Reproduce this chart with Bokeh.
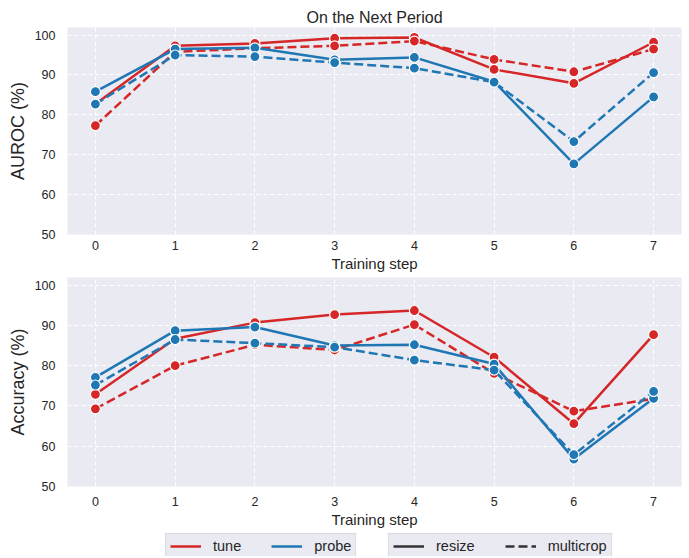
from bokeh.plotting import figure
from bokeh.layouts import column
from bokeh.models import Range1d, FixedTicker, Legend, LegendItem, ColumnDataSource
from bokeh.embed import file_html
from bokeh.resources import INLINE

steps = [0, 1, 2, 3, 4, 5, 6, 7]

auroc_tune_resize = [82.7, 97.3, 97.9, 99.2, 99.4, 91.4, 87.9, 98.2]
auroc_tune_multicrop = [77.3, 95.8, 96.7, 97.3, 98.5, 93.9, 90.8, 96.5]
auroc_probe_resize = [85.8, 96.5, 96.8, 93.8, 94.4, 88.3, 67.7, 84.5]
auroc_probe_multicrop = [82.7, 95.0, 94.6, 93.1, 91.7, 88.2, 73.3, 90.6]

acc_tune_resize = [72.9, 86.7, 90.7, 92.7, 93.7, 82.1, 65.6, 87.7]
acc_tune_multicrop = [69.3, 80.0, 85.2, 83.9, 90.2, 78.1, 68.7, 71.8]
acc_probe_resize = [77.1, 88.7, 89.6, 85.0, 85.2, 80.4, 56.8, 71.9]
acc_probe_multicrop = [75.2, 86.5, 85.6, 84.6, 81.4, 78.9, 57.9, 73.6]

y_ticks = [50, 60, 70, 80, 90, 100]

RED = "#d62728"
BLUE = "#1f77b4"
BG = "#eaeaf2"
TXT = "#262626"
FONT = "Liberation Sans"
DASH = "9 4"
W = 689


def make_panel(series, ylabel, height, top, bottom, xstand, title=None):
    p = figure(width=W, height=height, output_backend="svg", toolbar_location=None,
               x_range=Range1d(-0.35, 7.35), y_range=Range1d(50, 101.9),
               min_border_left=67, min_border_right=8, min_border_top=top,
               min_border_bottom=bottom, title=title)
    p.background_fill_color = BG
    p.border_fill_color = "white"
    p.outline_line_color = None
    if title is not None:
        p.title.align = "center"
        p.title.text_font = FONT
        p.title.text_font_size = "16px"
        p.title.text_font_style = "normal"
        p.title.text_color = TXT
        p.title.offset = 0
        p.title.standoff = 4
    for g in (p.xgrid, p.ygrid):
        g.grid_line_color = "white"
        g.grid_line_dash = "4 3"
        g.grid_line_width = 1
    p.xaxis.ticker = FixedTicker(ticks=steps)
    p.yaxis.ticker = FixedTicker(ticks=y_ticks)
    for ax in (p.xaxis, p.yaxis):
        ax.axis_line_color = None
        ax.major_tick_line_color = None
        ax.minor_tick_line_color = None
        ax.major_tick_out = 0
        ax.major_tick_in = 0
        ax.minor_tick_out = 0
        ax.minor_tick_in = 0
        ax.major_label_text_font = FONT
        ax.major_label_text_font_size = "12.5px"
        ax.major_label_text_color = TXT
        ax.axis_label_text_font = FONT
        ax.axis_label_text_font_style = "normal"
        ax.axis_label_text_color = TXT
    p.xaxis.major_label_standoff = xstand
    p.yaxis.major_label_standoff = 12
    p.xaxis.axis_label = "Training step"
    p.xaxis.axis_label_text_font_size = "15px"
    p.xaxis.axis_label_standoff = 2
    p.yaxis.axis_label = ylabel
    p.yaxis.axis_label_text_font_size = "18px"
    p.yaxis.axis_label_standoff = 4
    for vals, color, dash in series:
        src = ColumnDataSource(dict(x=steps, y=vals))
        p.line("x", "y", source=src, line_color=color, line_width=2.5,
               line_dash=dash)
        p.scatter("x", "y", source=src, size=10, fill_color=color,
                  line_color="white", line_width=1.2)
    return p


top_series = [
    (auroc_tune_resize, RED, "solid"),
    (auroc_tune_multicrop, RED, DASH),
    (auroc_probe_resize, BLUE, "solid"),
    (auroc_probe_multicrop, BLUE, DASH),
]
bot_series = [
    (acc_tune_resize, RED, "solid"),
    (acc_tune_multicrop, RED, DASH),
    (acc_probe_resize, BLUE, "solid"),
    (acc_probe_multicrop, BLUE, DASH),
]

p1 = make_panel(top_series, "AUROC (%)", 277, 27, 43, 6, title="On the Next Period")
p2 = make_panel(bot_series, "Accuracy (%)", 253, 0, 44, 10)

# legend strip
pl = figure(width=W, height=26, output_backend="svg", toolbar_location=None,
            x_range=Range1d(0, 1), y_range=Range1d(0, 1),
            min_border=0, min_border_left=0, min_border_right=0,
            min_border_top=0, min_border_bottom=0)
pl.axis.visible = False
pl.grid.visible = False
pl.outline_line_color = None
pl.background_fill_color = "white"
pl.border_fill_color = "white"


def hidden_src():
    return ColumnDataSource(dict(x=[-10, -9], y=[-10, -10]))


r_tune = pl.line("x", "y", source=hidden_src(), line_color=RED, line_width=2.5)
r_probe = pl.line("x", "y", source=hidden_src(), line_color=BLUE, line_width=2.5)
r_resize = pl.line("x", "y", source=hidden_src(), line_color="#333333", line_width=2.5)
r_multi = pl.line("x", "y", source=hidden_src(), line_color="#333333", line_width=2.5,
                  line_dash="9 4")


def style_legend(lg):
    lg.orientation = "horizontal"
    lg.background_fill_color = BG
    lg.background_fill_alpha = 1
    lg.border_line_color = "#cccccc"
    lg.border_line_width = 1
    lg.label_text_font = FONT
    lg.label_text_font_size = "14.5px"
    lg.label_text_color = TXT
    lg.glyph_width = 31
    lg.glyph_height = 16
    lg.label_height = 16
    lg.label_standoff = 12
    lg.spacing = 30
    lg.padding = 4
    lg.margin = 0


lg1 = Legend(items=[LegendItem(label="tune", renderers=[r_tune]),
                    LegendItem(label="probe", renderers=[r_probe])],
             location=(98, -3))
lg2 = Legend(items=[LegendItem(label="resize", renderers=[r_resize]),
                    LegendItem(label="multicrop", renderers=[r_multi])],
             location=(321, -3))
style_legend(lg1)
style_legend(lg2)
pl.add_layout(lg1, "center")
pl.add_layout(lg2, "center")

layout = column(p1, p2, pl, spacing=0)

open("out.html", "w").write(file_html(layout, INLINE))
